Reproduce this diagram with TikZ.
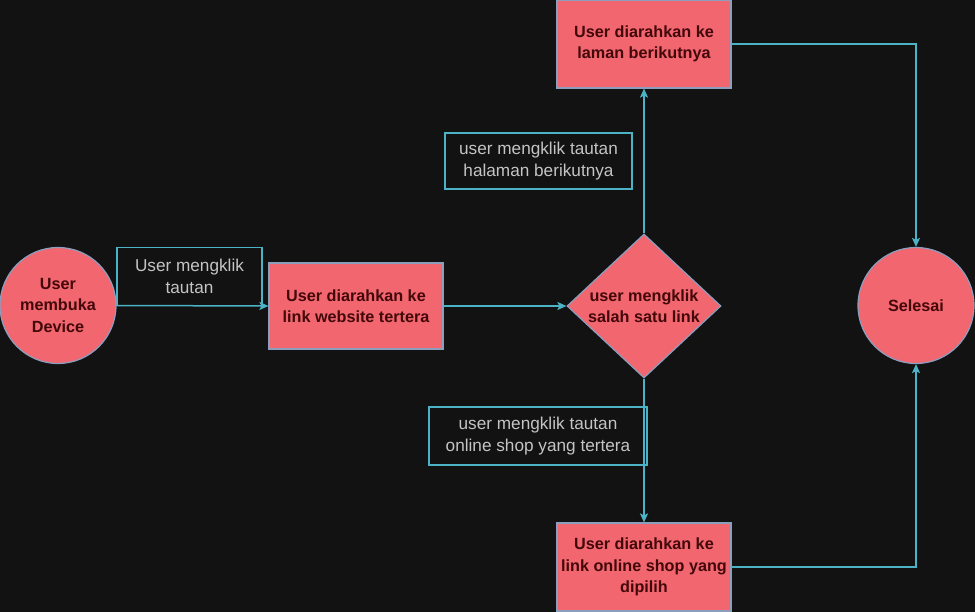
\documentclass[tikz,border=0pt]{standalone}
\usepackage{fontspec}
\setmainfont{Liberation Sans}
\usetikzlibrary{shapes.geometric,arrows.meta}
\definecolor{bg}{HTML}{121212}
\definecolor{shapefill}{HTML}{F2666F}
\definecolor{shapeline}{HTML}{8C9EBE}
\definecolor{shapetext}{HTML}{42080A}
\definecolor{conn}{HTML}{4BB3C5}
\definecolor{labeltext}{HTML}{C4C4C4}
\tikzset{
  base/.style={fill=shapefill, draw=shapeline, line width=1.2pt, text=shapetext,
    font=\fontsize{16.2}{21.5}\selectfont\bfseries, align=center, inner sep=0pt},
  roundnode/.style={base, circle, minimum size=116pt},
  boxnode/.style={base, rectangle, minimum width=174pt, minimum height=86pt},
  decision/.style={base, diamond, aspect=1.07, minimum width=154pt, minimum height=144pt},
  labelbox/.style={draw=conn, line width=1.2pt, text=labeltext, fill=bg,
    font=\fontsize{17.2}{21.5}\selectfont, align=center, inner sep=0pt},
  conn/.style={draw=conn, line width=1.5pt, -{Stealth[length=9pt,width=8pt,inset=2pt]}}
}
\begin{document}
\begin{tikzpicture}[x=1pt,y=-1pt]
\useasboundingbox[fill=bg] (0,0) rectangle (975,612);
% label boxes (behind connectors)
\node[labelbox, minimum width=145pt, minimum height=58pt] (l1) at (189.5,276.5) {User mengklik\\tautan};
\node[labelbox, minimum width=187pt, minimum height=56pt] (l2) at (538.5,161) {user mengklik tautan\\halaman berikutnya};
\node[labelbox, minimum width=218pt, minimum height=58pt] (l3) at (538,436) {user mengklik tautan\\online shop yang tertera};
% shapes
\node[roundnode] (start) at (58,305.5) {User\\membuka\\Device};
\node[boxnode] (web) at (356,306) {User diarahkan ke\\link website tertera};
\node[decision] (dec) at (644,306) {user mengklik\\salah satu link};
\node[boxnode, minimum height=88pt] (next) at (644,44) {User diarahkan ke\\laman berikutnya};
\node[boxnode, minimum height=88pt] (shop) at (644,567) {User diarahkan ke\\link online shop yang\\dipilih};
\node[roundnode] (end) at (916,305.5) {Selesai};
% connectors
\draw[conn] (start.east) -- (web.west);
\draw[conn] (web.east) -- (dec.west);
\draw[conn] (dec.north) -- (next.south);
\draw[conn] (dec.south) -- (shop.north);
\draw[conn] (next.east) -| (end.north);
\draw[conn] (shop.east) -| (end.south);
\end{tikzpicture}
\end{document}
